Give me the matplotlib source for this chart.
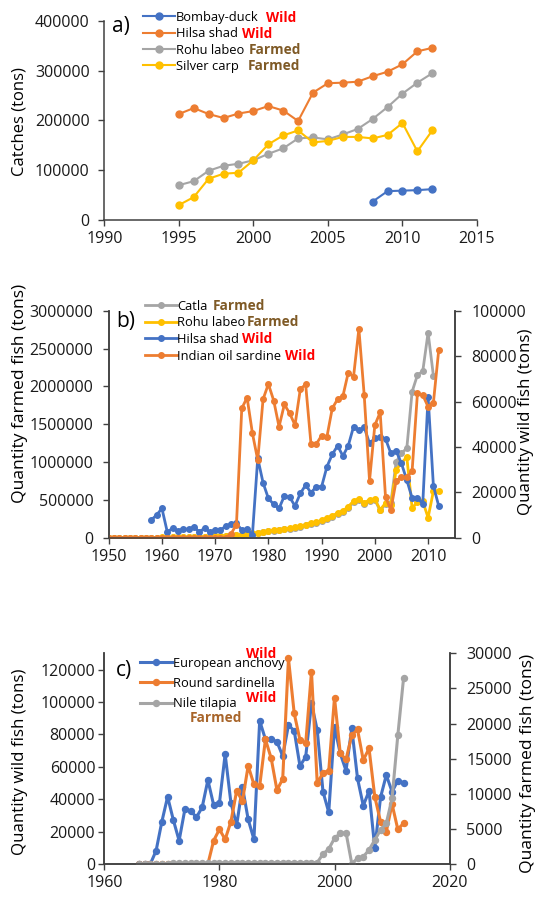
import matplotlib.pyplot as plt

plt.rcParams['font.family'] = ['Open Sans', 'DejaVu Sans']

W, H = 536, 897

BLUE = '#4472C4'
ORANGE = '#ED7D31'
GRAY = '#A5A5A5'
GOLD = '#FFC000'
WILD = '#FF0000'
FARMED = '#7F5A26'
FARMED_C = '#A8652A'
AXIS = '#404040'

# ---- a) catches, 1995-2012 ----
years_a = list(range(1995, 2013))
hilsa_a = [213000, 225000, 213000, 205000, 214000, 219000, 229000, 220000, 199000,
           256000, 275000, 276000, 278000, 289000, 298000, 313000, 339000, 346000]
rohu_a = [70000, 78000, 99000, 109000, 113000, 120000, 133000, 144000, 164000,
          166000, 162000, 172000, 183000, 203000, 227000, 254000, 276000, 295000]
silver_a = [30000, 46000, 83000, 93000, 95000, 120000, 152000, 170000, 180000,
            156000, 159000, 167000, 167000, 164000, 171000, 195000, 138000, 180000]
years_bombay = list(range(2008, 2013))
bombay_a = [37000, 58000, 59000, 60000, 62000]

# ---- b) India, 1950-2012 ----
years_b = list(range(1950, 2013))
rohu_b = [0, 0, 0, 0, 0, 0, 0, 0, 0, 0,
          3000, 4000, 5000, 6000, 7000, 9000, 10000, 12000, 14000, 16000,
          18000, 21000, 24000, 28000, 34000, 41000, 49000, 57000, 66000, 76000,
          87000, 96000, 105000, 115000, 125000, 139000, 154000, 170000, 188000, 208000,
          228000, 260000, 290000, 325000, 355000, 410000, 485000, 515000, 462000, 500000,
          512000, 368000, 458000, 430000, 900000, 985000, 1068000, 392000, 470000, 480000,
          265000, 615000, 622000]
years_catla = list(range(1950, 2012))
catla_b = [0, 0, 0, 0, 0, 0, 0, 0, 0, 0,
           2000, 3000, 4000, 5000, 6000, 8000, 9000, 11000, 13000, 15000,
           17000, 20000, 23000, 27000, 32000, 39000, 46000, 54000, 63000, 72000,
           82000, 92000, 100000, 110000, 120000, 133000, 148000, 163000, 180000, 200000,
           220000, 250000, 280000, 312000, 342000, 395000, 470000, 498000, 450000, 488000,
           498000, 360000, 445000, 455000, 1000000, 1120000, 1180000, 1930000, 2150000, 2200000,
           2710000, 2140000]
years_hilsa_b = list(range(1958, 2013))
hilsa_b = [7800, 10000, 12900, 2600, 4100, 3100, 3800, 3700, 4800, 2600,
           4100, 2600, 3400, 3400, 5100, 6000, 6300, 3400, 3700, 1300,
           35000, 24200, 17300, 14700, 12900, 18400, 17800, 14000, 19500, 23200,
           19800, 22500, 22500, 31300, 36700, 40500, 36000, 40500, 48900, 47400,
           48600, 41600, 43800, 44500, 43600, 37200, 38200, 32700, 25400, 17500,
           17500, 15000, 62100, 22800, 14000]
sardine_b = [0] * 23 + [
    1800, 5800, 57000, 61700, 46000, 34200, 61000, 67700, 60400, 48900,
    58700, 54800, 49600, 65500, 67500, 41300, 41300, 45000, 44500, 57000,
    61000, 62400, 72700, 71000, 92000, 62800, 25100, 49600, 55200, 18000,
    12200, 25100, 26600, 26600, 29400, 63600, 62800, 57700, 59500, 82700]

# ---- c) 1966-2012 ----
years_c = list(range(1966, 2013))
anchovy_c = [0, 0, 0, 8200, 26100, 41500, 27100, 14400, 33700, 32900,
             28800, 34900, 51800, 36400, 37400, 67800, 37800, 24000, 47700, 27500,
             15200, 88400, 76900, 76900, 75400, 66600, 85700, 82200, 60400, 66200,
             99100, 82600, 44600, 31900, 84700, 68200, 57600, 83700, 52800, 36000,
             45000, 9700, 41100, 54900, 44600, 51400, 50100]
sardinella_c = [0, 0, 0, 0, 0, 0, 0, 0, 0, 0,
                0, 0, 0, 14400, 21400, 15200, 26100, 45200, 38800, 60600,
                49100, 48100, 76900, 65200, 45600, 52400, 126800, 92900, 76500, 74400,
                118600, 49700, 56300, 57600, 102600, 68200, 64500, 79500, 83000, 64100,
                71300, 41500, 26100, 19900, 37000, 21400, 25100]
tilapia_c = [20, 20, 40, 40, 60, 60, 80, 80, 100, 100,
             100, 120, 120, 150, 150, 150, 180, 180, 200, 200,
             180, 180, 200, 180, 180, 200, 200, 200, 200, 200,
             200, 200, 1420, 2140, 3660, 4370, 4460, 60, 810, 1040,
             2000, 3420, 4840, 5790, 9350, 18300, 26450]

fig = plt.figure(figsize=(W / 100, H / 100), dpi=100)


def axes_px(left, top, right, bottom):
    return fig.add_axes([left / W, 1 - bottom / H, (right - left) / W, (bottom - top) / H])


def text_px(x, y, s, **kw):
    return fig.text(x / W, 1 - y / H, s, **kw)


def style_axes(ax, sides, ypad=5, xpad=4):
    for name, sp in ax.spines.items():
        sp.set_visible(name in sides)
        sp.set_color(AXIS)
        sp.set_linewidth(1.1)
    ax.tick_params(axis='both', direction='out', length=4, width=1.0, color=AXIS,
                   labelsize=11.5, labelcolor='#1a1a1a')
    ax.tick_params(axis='x', pad=xpad)
    ax.tick_params(axis='y', pad=ypad)
    ax.ticklabel_format(axis='y', style='plain', useOffset=False)
    ax.patch.set_alpha(0)


def add_legend(ax, handles, labels, x, y, spacing, textpad):
    ax.legend(handles, labels, loc='upper left', bbox_to_anchor=(x / W, 1 - y / H),
              bbox_transform=fig.transFigure, frameon=False, borderpad=0,
              borderaxespad=0, fontsize=9.3, handlelength=2.45, handletextpad=textpad,
              labelspacing=spacing, numpoints=1)


def tag(x, y, s, color):
    text_px(x, y, s, color=color, fontsize=9.8, fontweight='bold', va='center', ha='left')


# ----- panel a -----
ax_a = axes_px(104.3, 21, 477, 220)
style_axes(ax_a, ('left', 'bottom'), ypad=6.5)
kw_a = dict(lw=1.5, marker='o', ms=5)
la1, = ax_a.plot(years_bombay, bombay_a, color=BLUE, **kw_a)
la2, = ax_a.plot(years_a, hilsa_a, color=ORANGE, **kw_a)
la3, = ax_a.plot(years_a, rohu_a, color=GRAY, **kw_a)
la4, = ax_a.plot(years_a, silver_a, color=GOLD, **kw_a)
ax_a.set_xlim(1990, 2015)
ax_a.set_ylim(0, 400000)
ax_a.set_xticks(range(1990, 2016, 5))
ax_a.set_yticks(range(0, 400001, 100000))
add_legend(ax_a, [la1, la2, la3, la4], ['Bombay-duck', 'Hilsa shad', 'Rohu labeo', 'Silver carp'],
           143, 10.9, 0.26, 0.08)
tag(266, 17.5, 'Wild', WILD)
tag(242, 34, 'Wild', WILD)
tag(249, 50.5, 'Farmed', FARMED)
tag(248, 66.5, 'Farmed', FARMED)
text_px(121, 26.5, 'a)', fontsize=15, ha='center', va='center')
text_px(19.5, 122, 'Catches (tons)', fontsize=12, rotation=90, ha='center', va='center')

# ----- panel b -----
ax_b = axes_px(108.7, 310.7, 454.7, 537.7)
ax_b2 = ax_b.twinx()
style_axes(ax_b, ('left', 'bottom', 'right'), ypad=7)
style_axes(ax_b2, ('left', 'bottom', 'right'), ypad=8)
kw_b = dict(lw=2.0, marker='o', ms=4)
lb1, = ax_b.plot(years_catla, catla_b, color=GRAY, **kw_b)
lb2, = ax_b.plot(years_b, rohu_b, color=GOLD, **kw_b)
lb3, = ax_b2.plot(years_hilsa_b, hilsa_b, color=BLUE, **kw_b)
lb4, = ax_b2.plot(years_b, sardine_b, color=ORANGE, **kw_b)
ax_b.set_xlim(1950, 2015)
ax_b.set_ylim(0, 3000000)
ax_b2.set_ylim(0, 100000)
ax_b.set_xticks(range(1950, 2011, 10))
ax_b.set_yticks(range(0, 3000001, 500000))
ax_b2.set_yticks(range(0, 100001, 20000))
add_legend(ax_b2, [lb1, lb2, lb3, lb4], ['Catla', 'Rohu labeo', 'Hilsa shad', 'Indian oil sardine'],
           145, 299.5, 0.29, 0.05)
tag(213, 306, 'Farmed', FARMED)
tag(247, 322.5, 'Farmed', FARMED)
tag(242, 339, 'Wild', WILD)
tag(285, 356, 'Wild', WILD)
text_px(126, 321, 'b)', fontsize=15, ha='center', va='center')
text_px(20.5, 393, 'Quantity farmed fish (tons)', fontsize=12.6, rotation=90, ha='center', va='center')
text_px(526.5, 422, 'Quantity wild fish (tons)', fontsize=12.2, rotation=90, ha='center', va='center')

# ----- panel c -----
ax_c = axes_px(104.3, 653.3, 449.6, 864)
ax_c2 = ax_c.twinx()
style_axes(ax_c, ('left', 'bottom', 'right'), ypad=2.5)
style_axes(ax_c2, ('left', 'bottom', 'right'), ypad=8)
kw_c = dict(lw=2.2, marker='o', ms=4.3)
lc1, = ax_c.plot(years_c, anchovy_c, color=BLUE, **kw_c)
lc2, = ax_c.plot(years_c, sardinella_c, color=ORANGE, **kw_c)
lc3, = ax_c2.plot(years_c, tilapia_c, color=GRAY, **kw_c)
ax_c.set_xlim(1960, 2020)
ax_c.set_ylim(0, 130000)
ax_c2.set_ylim(0, 30000)
ax_c.set_xticks(range(1960, 2021, 20))
ax_c.set_yticks(range(0, 120001, 20000))
ax_c2.set_yticks(range(0, 30001, 5000))
add_legend(ax_c2, [lc1, lc2, lc3], ['European anchovy', 'Round sardinella', 'Nile tilapia'],
           140, 656.9, 0.55, 0.08)
tag(246.5, 654, 'Wild', WILD)
tag(246.5, 697.5, 'Wild', WILD)
tag(190, 717.5, 'Farmed', FARMED_C)
text_px(124, 670, 'c)', fontsize=15, ha='center', va='center')
text_px(20.5, 762, 'Quantity wild fish (tons)', fontsize=12.2, rotation=90, ha='center', va='center')
text_px(528.5, 763, 'Quantity farmed fish (tons)', fontsize=12.6, rotation=90, ha='center', va='center')

fig.savefig('out.png', dpi=100)
